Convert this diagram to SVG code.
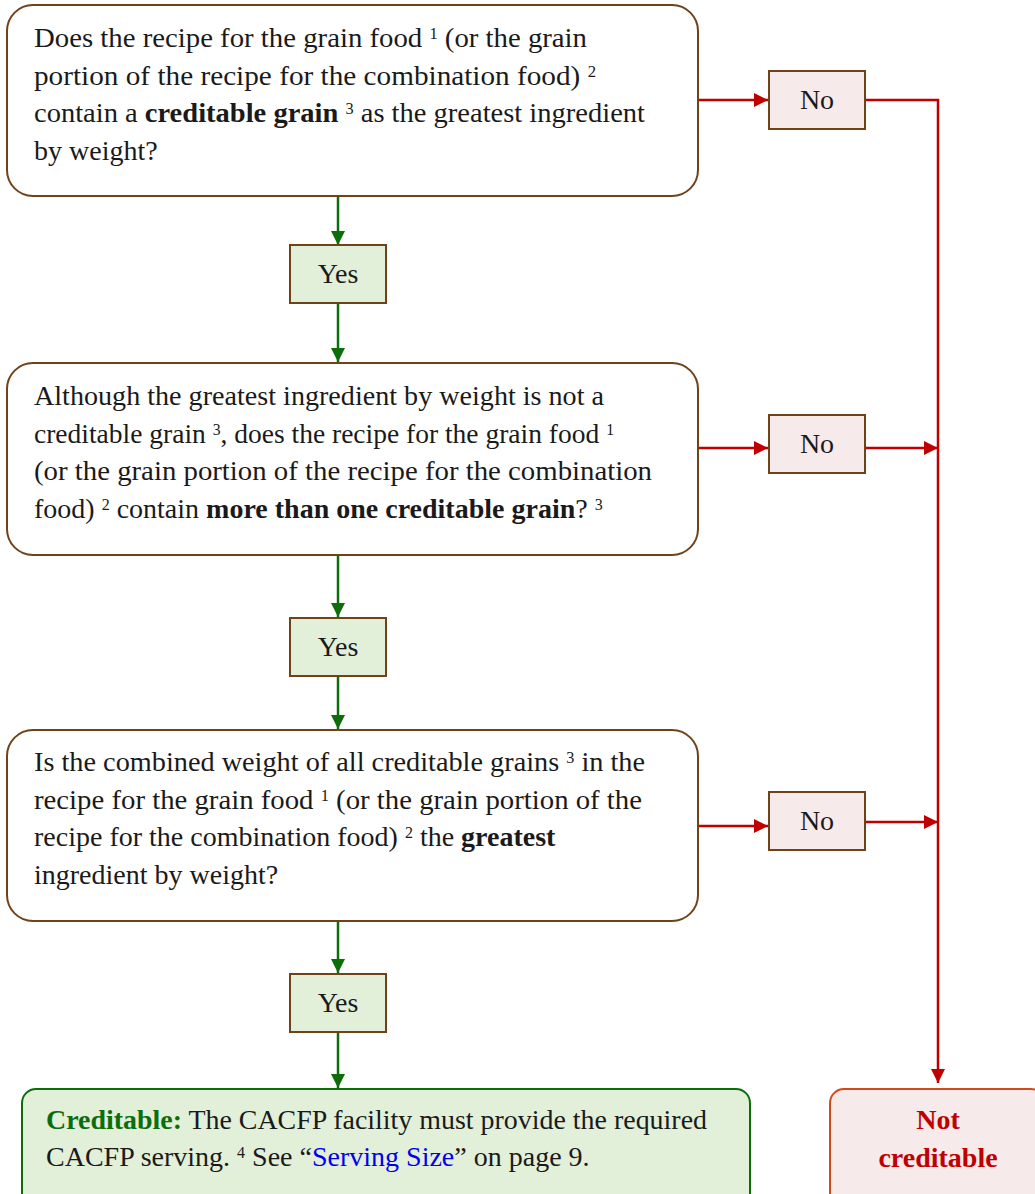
<svg xmlns="http://www.w3.org/2000/svg" width="1035" height="1194" viewBox="0 0 1035 1194">
<defs>
<style>
.q{fill:#ffffff;stroke:#70421a;stroke-width:2}
.yes{fill:#e2efd9;stroke:#70421a;stroke-width:2}
.no{fill:#f7eaea;stroke:#70421a;stroke-width:2}
.t{font-family:"Liberation Serif","Times New Roman",serif;font-size:28px;fill:#1a1a1a}
.sup{font-size:16px}
.b{font-weight:bold}
.g{stroke:#0b6e0b;stroke-width:2.5;fill:none}
.r{stroke:#c00000;stroke-width:2.5;fill:none}
</style>
<marker id="ag" markerWidth="14" markerHeight="14" refX="14" refY="7" orient="auto" markerUnits="userSpaceOnUse"><path d="M0,0 L14,7 L0,14 Z" fill="#0b6e0b"/></marker>
<marker id="ar" markerWidth="14" markerHeight="14" refX="14" refY="7" orient="auto" markerUnits="userSpaceOnUse"><path d="M0,0 L14,7 L0,14 Z" fill="#c00000"/></marker>
</defs>

<g id="connectors">
<line class="g" x1="338" y1="197" x2="338" y2="245" marker-end="url(#ag)"/>
<line class="g" x1="338" y1="303" x2="338" y2="362" marker-end="url(#ag)"/>
<line class="g" x1="338" y1="556" x2="338" y2="617" marker-end="url(#ag)"/>
<line class="g" x1="338" y1="676" x2="338" y2="729" marker-end="url(#ag)"/>
<line class="g" x1="338" y1="922" x2="338" y2="973" marker-end="url(#ag)"/>
<line class="g" x1="338" y1="1032" x2="338" y2="1088" marker-end="url(#ag)"/>
<line class="r" x1="698" y1="100" x2="768" y2="100" marker-end="url(#ar)"/>
<polyline class="r" points="865,100 938,100 938,1083" marker-end="url(#ar)"/>
<line class="r" x1="698" y1="448" x2="768" y2="448" marker-end="url(#ar)"/>
<line class="r" x1="865" y1="448" x2="938" y2="448" marker-end="url(#ar)"/>
<line class="r" x1="698" y1="826" x2="768" y2="826" marker-end="url(#ar)"/>
<line class="r" x1="865" y1="822" x2="938" y2="822" marker-end="url(#ar)"/>
</g>

<g id="q1">
<rect class="q" x="7" y="5" width="691" height="191" rx="26"/>
<text class="t" x="34" y="47" textLength="553" lengthAdjust="spacingAndGlyphs">Does the recipe for the grain food <tspan class="sup" dy="-8">1</tspan><tspan dy="8"> (or the grain</tspan></text>
<text class="t" x="34" y="85" textLength="562" lengthAdjust="spacingAndGlyphs">portion of the recipe for the combination food) <tspan class="sup" dy="-8">2</tspan></text>
<text class="t" x="34" y="122" textLength="611" lengthAdjust="spacingAndGlyphs">contain a <tspan class="b">creditable grain</tspan> <tspan class="sup" dy="-8">3</tspan><tspan dy="8"> as the greatest ingredient</tspan></text>
<text class="t" x="34" y="160">by weight?</text>
</g>

<g id="yes1"><rect class="yes" x="290" y="245" width="96" height="58"/><text class="t" x="338" y="283" text-anchor="middle">Yes</text></g>
<g id="no1"><rect class="no" x="769" y="71" width="96" height="58"/><text class="t" x="817" y="109" text-anchor="middle">No</text></g>

<g id="q2">
<rect class="q" x="7" y="363" width="691" height="192" rx="26"/>
<text class="t" x="34" y="405" textLength="570" lengthAdjust="spacingAndGlyphs">Although the greatest ingredient by weight is not a</text>
<text class="t" x="34" y="443" textLength="580" lengthAdjust="spacingAndGlyphs">creditable grain <tspan class="sup" dy="-8">3</tspan><tspan dy="8">, does the recipe for the grain food </tspan><tspan class="sup" dy="-8">1</tspan></text>
<text class="t" x="34" y="480" textLength="618" lengthAdjust="spacingAndGlyphs">(or the grain portion of the recipe for the combination</text>
<text class="t" x="34" y="518">food) <tspan class="sup" dy="-8">2</tspan><tspan dy="8"> contain </tspan><tspan class="b">more than one creditable grain</tspan>? <tspan class="sup" dy="-8">3</tspan></text>
</g>

<g id="yes2"><rect class="yes" x="290" y="618" width="96" height="58"/><text class="t" x="338" y="656" text-anchor="middle">Yes</text></g>
<g id="no2"><rect class="no" x="769" y="415" width="96" height="58"/><text class="t" x="817" y="453" text-anchor="middle">No</text></g>

<g id="q3">
<rect class="q" x="7" y="730" width="691" height="191" rx="26"/>
<text class="t" x="34" y="771" textLength="611" lengthAdjust="spacingAndGlyphs">Is the combined weight of all creditable grains <tspan class="sup" dy="-8">3</tspan><tspan dy="8"> in the</tspan></text>
<text class="t" x="34" y="809" textLength="608" lengthAdjust="spacingAndGlyphs">recipe for the grain food <tspan class="sup" dy="-8">1</tspan><tspan dy="8"> (or the grain portion of the</tspan></text>
<text class="t" x="34" y="846">recipe for the combination food) <tspan class="sup" dy="-8">2</tspan><tspan dy="8"> the </tspan><tspan class="b">greatest</tspan></text>
<text class="t" x="34" y="884">ingredient by weight?</text>
</g>

<g id="yes3"><rect class="yes" x="290" y="974" width="96" height="58"/><text class="t" x="338" y="1012" text-anchor="middle">Yes</text></g>
<g id="no3"><rect class="no" x="769" y="792" width="96" height="58"/><text class="t" x="817" y="830" text-anchor="middle">No</text></g>

<g id="creditable">
<rect x="22" y="1089" width="728" height="120" rx="14" fill="#e2efd9" stroke="#0b6e0b" stroke-width="2"/>
<text class="t" x="46" y="1129" textLength="661" lengthAdjust="spacingAndGlyphs"><tspan class="b" style="fill:#0b6e0b">Creditable:</tspan> The CACFP facility must provide the required</text>
<text class="t" x="46" y="1166">CACFP serving. <tspan class="sup" dy="-8">4</tspan><tspan dy="8"> See “</tspan><tspan style="fill:#0000ee">Serving Size</tspan>” on page 9.</text>
</g>

<g id="not-creditable">
<rect x="830" y="1089" width="215" height="120" rx="14" fill="#f7eaea" stroke="#d24a1c" stroke-width="2"/>
<text class="t b" x="938" y="1129" text-anchor="middle" style="fill:#c00000">Not</text>
<text class="t b" x="938" y="1167" text-anchor="middle" style="fill:#c00000">creditable</text>
</g>
</svg>
